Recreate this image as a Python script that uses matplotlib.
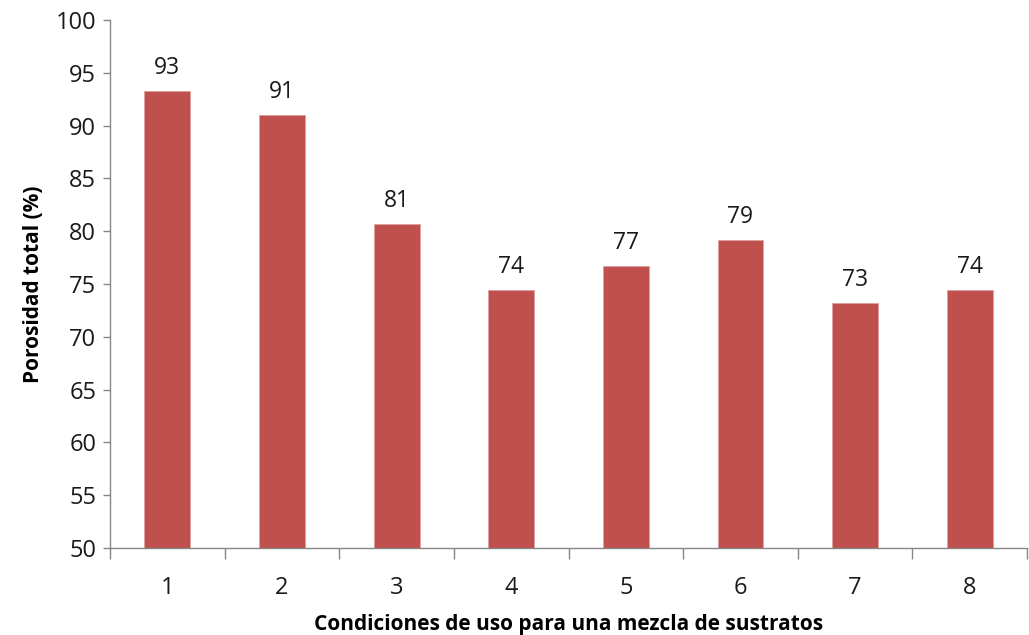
import matplotlib.pyplot as plt
import numpy as np

plt.rcParams['font.family'] = ['Open Sans', 'DejaVu Sans']

# Porosidad total por condición de uso
condiciones = ['1', '2', '3', '4', '5', '6', '7', '8']
porosidad = [93.3, 91.0, 80.7, 74.4, 76.7, 79.2, 73.2, 74.4]

y_ticks = [50, 55, 60, 65, 70, 75, 80, 85, 90, 95, 100]

fig = plt.figure(figsize=(10.29, 6.35), dpi=100)
ax = fig.add_axes([0.107, 0.137, 0.891, 0.8315])

x = np.arange(1, len(condiciones) + 1)
bars = ax.bar(x, porosidad, width=0.4, bottom=0, color='#C0504D',
              edgecolor='#E0A0A0', linewidth=0.6, zorder=2)

# etiquetas de valor sobre cada barra
for xi, v in zip(x, porosidad):
    ax.annotate(f'{v:.0f}', xy=(xi, v), xytext=(0, 8), textcoords='offset points',
                ha='center', va='bottom', fontsize=16.5, color='#1a1a1a')

ax.set_xlim(0.5, len(condiciones) + 0.5)
ax.set_ylim(50, 100)
ax.set_yticks(y_ticks)
ax.set_xticks(x)
ax.set_xticklabels(condiciones)
ax.set_xticks(np.arange(0.5, len(condiciones) + 1, 1), minor=True)

ax.tick_params(axis='y', labelsize=17, length=5, color='#868686', width=1, pad=5,
               labelcolor='#1a1a1a')
ax.tick_params(axis='x', which='major', labelsize=17, length=0, pad=20,
               labelcolor='#1a1a1a')
ax.tick_params(axis='x', which='minor', length=8, color='#868686', width=1)

for s in ['top', 'right']:
    ax.spines[s].set_visible(False)
for s in ['left', 'bottom']:
    ax.spines[s].set_color('#868686')
    ax.spines[s].set_linewidth(1)

ax.set_ylabel('Porosidad total (%)', fontsize=15, fontweight='bold', labelpad=8)
ax.set_xlabel('Condiciones de uso para una mezcla de sustratos', fontsize=15,
              fontweight='bold', labelpad=10)

fig.savefig('out.png', dpi=100)
